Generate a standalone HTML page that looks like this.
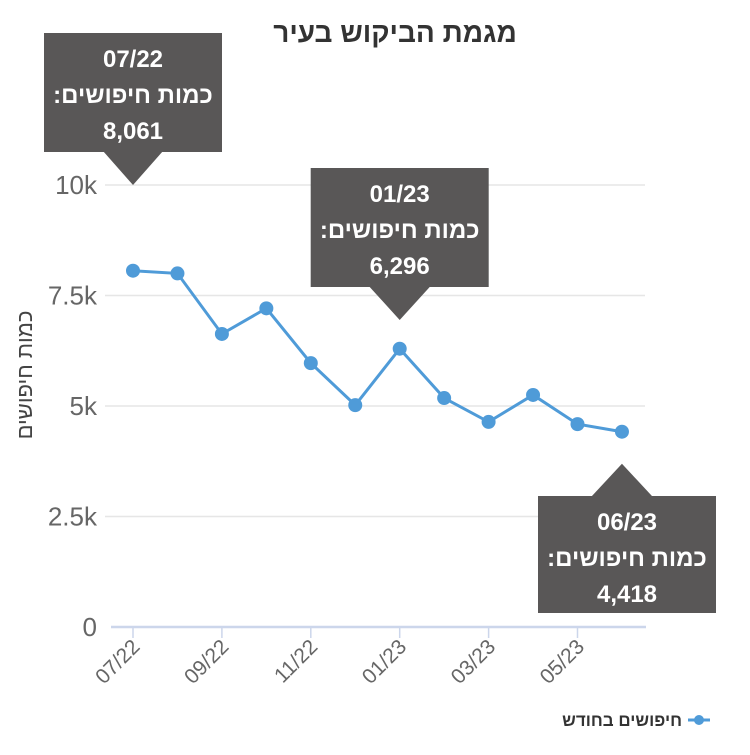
<!DOCTYPE html>
<html><head><meta charset="utf-8"><style>
body{margin:0;background:#fff;width:750px;height:750px;overflow:hidden;font-family:"Liberation Sans","Noto Sans CJK JP",sans-serif}
</style></head><body>
<svg width="750" height="750" font-family="Liberation Sans, DejaVu Sans, sans-serif">
<text x="395" y="42" text-anchor="middle" font-size="28" font-weight="bold" fill="#333" direction="rtl">מגמת הביקוש בעיר</text>
<g id="grid"></g><g id="axis"></g><g id="series"></g><g id="tips"></g>
<text transform="translate(32,375) rotate(-90)" text-anchor="middle" font-size="22" fill="#444" direction="rtl">כמות חיפושים</text>
<g>
<line x1="688" y1="720" x2="710" y2="720" stroke="#4f9bd8" stroke-width="3"/>
<circle cx="699" cy="720" r="5" fill="#4f9bd8"/>
<text x="682" y="726" text-anchor="start" font-size="17" font-weight="bold" fill="#333" direction="rtl">חיפושים בחודש</text>
</g>
</svg>
<script>
const months=["07/22","08/22","09/22","10/22","11/22","12/22","01/23","02/23","03/23","04/23","05/23","06/23"];
const values=[8061,8000,6630,7210,5970,5020,6296,5180,4640,5250,4590,4418];
const yTicks=[0,2500,5000,7500,10000];
const yTickLabels=["0","2.5k","5k","7.5k","10k"];
const tipIndices=[0,6,11];
const NS="http://www.w3.org/2000/svg";
const x=i=>133+i*44.45, y=v=>627-v*0.0442;
function mk(t,a,p){const e=document.createElementNS(NS,t);for(const k in a)e.setAttribute(k,a[k]);p.appendChild(e);return e;}
const grid=document.getElementById('grid'),axis=document.getElementById('axis'),ser=document.getElementById('series'),tips=document.getElementById('tips');
yTicks.forEach((v,i)=>{
 if(v>0){const l=mk('line',{x1:105,x2:645,y1:y(v),y2:y(v),stroke:'#e6e6e6','stroke-width':1.5},grid);
 
 }
 const t=mk('text',{x:97,y:y(v)+9,'text-anchor':'end','font-size':26,fill:'#666'},axis);t.textContent=yTickLabels[i];
 
 
});
const ax=mk('line',{x1:111,x2:646,y1:627,y2:627,stroke:'#ccd6eb','stroke-width':2.5},axis);


months.forEach((m,i)=>{if(i%2)return;
 mk('line',{x1:x(i),x2:x(i),y1:627,y2:638,stroke:'#ccd6eb','stroke-width':1.5},axis);
 const t=mk('text',{transform:`translate(${x(i)+8},${648}) rotate(-45)`,'text-anchor':'end','font-size':21,fill:'#666'},axis);t.textContent=m;
 
 
});
const pl=mk('polyline',{points:values.map((v,i)=>x(i)+','+y(v)).join(' '),fill:'none',stroke:'#4f9bd8','stroke-width':3},ser);


values.forEach((v,i)=>{const c=mk('circle',{cx:x(i),cy:y(v),r:7,fill:'#4f9bd8'},ser);
 
 });
tipIndices.forEach(i=>{
 const px=x(i),py=y(values[i]);const g=mk('g',{},tips);
 
 
 let bx=px-89,by,path;
 if(i===11){by=496;bx=538;path=`M${px-30},${by} L${px},${py+32} L${px+30},${by}Z`;}
 if(i===0){by=33;path=`M${px-30},151 L${px},185 L${px+30},151Z`;}
 if(i===6){by=168;path=`M${px-30},287 L${px},320 L${px+30},287Z`;}
 mk('rect',{x:bx,y:by,width:178,height:i===11?117:119,fill:'#595757'},g);
 mk('path',{d:path,fill:'#595757'},g);
 const lines=[months[i],'כמות חיפושים:',values[i].toLocaleString('en-US')];
 lines.forEach((s,k)=>{const t=mk('text',{x:bx+89,y:by+34+k*36,'text-anchor':'middle','font-size':24,'font-weight':'bold',fill:'#fff',direction:'rtl'},g);t.textContent=s;});
});
</script>
</body></html>
